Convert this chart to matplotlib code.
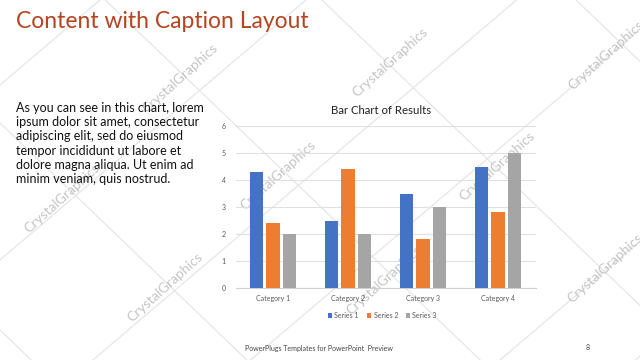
import matplotlib
matplotlib.use("Agg")
import matplotlib.pyplot as plt
import numpy as np

# Chart data
categories = ["Category 1", "Category 2", "Category 3", "Category 4"]
series_names = ["Series 1", "Series 2", "Series 3"]
series1 = [4.3, 2.5, 3.5, 4.5]
series2 = [2.4, 4.4, 1.8, 2.8]
series3 = [2.0, 2.0, 3.0, 5.0]
colors = ["#4472C4", "#ED7D31", "#A5A5A5"]

slide_title = "Content with Caption Layout"
caption = ("As you can see in this chart, lorem\n"
           "ipsum dolor sit amet, consectetur\n"
           "adipiscing elit, sed do eiusmod\n"
           "tempor incididunt ut labore et\n"
           "dolore magna aliqua. Ut enim ad\n"
           "minim veniam, quis nostrud.")
footer = "PowerPlugs Templates for PowerPoint  Preview"
page_no = "8"

# watermark centres (pixels) and background diagonal lines
wm_x = [180, 390, 606, 62, 278, 497, 165, 384, 605]
wm_y = [78, 62, 55, 198, 175, 166, 287, 280, 268]
falling = [123, -309, -553, -101, 330, 400]     # y = 0.96 x + c
rising = [439, 260, 573, 785, 85, 900]          # y = -0.85 x + c

fig = plt.figure(figsize=(6.4, 3.6), dpi=100)
fig.patch.set_facecolor("white")

bg = fig.add_axes([0, 0, 1, 1])
bg.set_xlim(0, 640)
bg.set_ylim(360, 0)
bg.axis("off")

xs = np.array([-50, 700])
for c in falling:
    bg.plot(xs, 0.96 * xs + c, color="#e6e6e6", lw=0.9, zorder=0)
for c in rising:
    bg.plot(xs, -0.85 * xs + c, color="#e6e6e6", lw=0.9, zorder=0)
for x, y in zip(wm_x, wm_y):
    bg.text(x, y, "CrystalGraphics", rotation=42, rotation_mode="anchor",
            ha="center", va="center", fontsize=10, color="#c4c4c4",
            family="Lato", zorder=1)

bg.text(16, 22, slide_title, fontsize=16.5, color="#B5441F", family="Lato",
        ha="left", va="center")
bg.text(16, 102, caption, fontsize=9, color="#111111", family="Lato",
        ha="left", va="top", linespacing=1.22)
bg.text(245, 348, footer, fontsize=5, color="#444444", family="Lato",
        ha="left", va="center")
bg.text(588, 348, page_no, fontsize=5, color="#444444", family="Lato",
        ha="center", va="center")
bg.text(381, 110, "Bar Chart of Results", fontsize=8.2, color="#222222",
        family="Lato", ha="center", va="center")

ax = fig.add_axes([235.5 / 640, 72 / 360, 300 / 640, 162 / 360])
ax.patch.set_alpha(0)
x = np.arange(len(categories))
w = 0.178
step = 0.222
for i, (vals, name) in enumerate(zip([series1, series2, series3], series_names)):
    ax.bar(x + (i - 1) * step, vals, width=w, color=colors[i], label=name, zorder=3)

ax.set_xlim(-0.5, 3.5)
ax.set_ylim(0, 6)
ax.set_yticks(range(0, 7))
ax.grid(axis="y", color="#e0e0e0", lw=0.8, zorder=0)
for s in ["top", "right", "left"]:
    ax.spines[s].set_visible(False)
ax.spines["bottom"].set_color("#d0d0d0")
ax.spines["bottom"].set_linewidth(0.8)
ax.set_xticks(x)
ax.set_xticklabels(categories)
ax.tick_params(axis="both", length=0, labelsize=5, labelcolor="#595959")
ax.tick_params(axis="y", pad=7)
ax.tick_params(axis="x", pad=5)
for lab in ax.get_xticklabels() + ax.get_yticklabels():
    lab.set_family("Lato")

leg = ax.legend(loc="upper center", bbox_to_anchor=(0.49, -0.11), ncol=3,
                frameon=False, handlelength=0.6, handleheight=0.6,
                handletextpad=0.3, columnspacing=1.2, prop={"family": "Lato", "size": 5})
for t in leg.get_texts():
    t.set_color("#595959")

fig.savefig("out.png", dpi=100)
